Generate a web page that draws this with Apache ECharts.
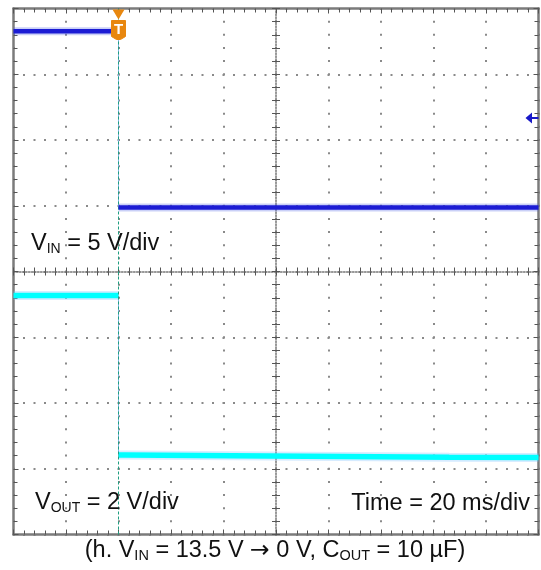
<!DOCTYPE html>
<html><head><meta charset="utf-8">
<script src="https://cdn.jsdelivr.net/npm/echarts@6/dist/echarts.min.js"></script>
<style>html,body{margin:0;padding:0;background:#fff}#c{width:541px;height:570px}</style>
</head><body><div id="c"></div>
<script>
// ---------------- data ----------------
// horizontal: 20 ms/div, 10 divisions, trigger at 0 ms
const timeAxisMs = [-40, 160];          // visible time window
const timeDivMs = 20;                   // 20 ms/div
// vertical: 8 divisions, values expressed in volts per channel
const vinTimeMs = [-40, 0, 0, 160];
const vinVolts  = [13.4, 13.4, 0.0, 0.0];
const voutTimeMs = [-40, 0, 0, 2.5, 126, 160];
const voutVolts  = [5.27, 5.27, 0.42, 0.42, 0.35, 0.34];
const triggerTimeMs = 0;
const triggerLevelV = 6.8;
const vinVoltsPerDiv = 5;
const voutVoltsPerDiv = 2;
const vinGroundDiv = 0.975;   // channel 1 ground position (div from centre)
const voutGroundDiv = -3;     // channel 2 ground position (div from centre)

// ---------------- helpers ----------------
function toDiv(v, perDiv, ground) { return v / perDiv + ground; }
function splitTrace(ts, vs, perDiv, ground) {
  const pts = ts.map((t, i) => [t, toDiv(vs[i], perDiv, ground)]);
  let e = 0;
  for (let i = 1; i < pts.length; i++) if (pts[i][0] === pts[i - 1][0]) { e = i; break; }
  return { before: pts.slice(0, e), edge: [pts[e - 1], pts[e]], after: pts.slice(e) };
}
const vin = splitTrace(vinTimeMs, vinVolts, vinVoltsPerDiv, vinGroundDiv);
const vout = splitTrace(voutTimeMs, voutVolts, voutVoltsPerDiv, voutGroundDiv);

const FONT = '"Liberation Sans", Arial, Helvetica, sans-serif';
const gridGray = '#7b7b7b', tickGray = '#555555', dotGray = '#8a8a8a';

function xAx(pos, opts) {
  return Object.assign({
    type: 'value', min: timeAxisMs[0], max: timeAxisMs[1], interval: timeDivMs, position: pos,
    axisLabel: { show: false }, splitLine: { show: false },
    axisLine: { show: true, onZero: false, lineStyle: { color: gridGray, width: 2.5 } },
    axisTick: { show: true, inside: true, length: 5, lineStyle: { color: tickGray, width: 1 } },
    minorTick: { show: true, splitNumber: 5, length: 4, lineStyle: { color: tickGray, width: 1 } }
  }, opts);
}
function yAx(pos, opts) {
  return Object.assign({
    type: 'value', min: -4, max: 4, interval: 1, position: pos,
    axisLabel: { show: false }, splitLine: { show: false },
    axisLine: { show: true, onZero: false, lineStyle: { color: gridGray, width: 2.5 } },
    axisTick: { show: true, inside: true, length: 5, lineStyle: { color: tickGray, width: 1 } },
    minorTick: { show: true, splitNumber: 5, length: 4, lineStyle: { color: tickGray, width: 1 } }
  }, opts);
}
const centreLine = { show: true, onZero: false, lineStyle: { color: '#777', width: 1.5, type: [1.5, 1.5] } };
const noLine = { show: false, onZero: false };
const cTick = { show: true, inside: false, length: 4, lineStyle: { color: tickGray, width: 1 } };
const cMinor = { show: true, splitNumber: 5, length: 4, lineStyle: { color: tickGray, width: 1 } };

function trace(data, color, width, glow, glowW, z) {
  return [
    { type: 'line', data: data, xAxisIndex: 0, yAxisIndex: 0, symbol: 'none', silent: true, z: z,
      lineStyle: { color: glow, width: glowW } },
    { type: 'line', data: data, xAxisIndex: 0, yAxisIndex: 0, symbol: 'none', silent: true, z: z + 1,
      lineStyle: { color: color, width: width } }
  ];
}

const VIN_C = '#1c1cd4', VOUT_C = '#00ffff';
const series = []
  .concat(trace(vin.before, VIN_C, 4.5, 'rgba(80,100,230,0.3)', 8, 5))
  .concat(trace(vin.after, VIN_C, 4.5, 'rgba(80,100,230,0.3)', 8, 5))
  .concat(trace(vout.before, VOUT_C, 5.5, 'rgba(120,190,255,0.3)', 9, 3))
  .concat(trace(vout.after, VOUT_C, 5.5, 'rgba(120,190,255,0.3)', 9, 3));
// falling edges (thin, light)
series.push({ type: 'line', data: vin.edge, symbol: 'none', silent: true, z: 4,
  lineStyle: { color: '#8fb4f2', width: 1 } });
series.push({ type: 'line', data: vout.edge, symbol: 'none', silent: true, z: 2,
  lineStyle: { color: '#8fb4f2', width: 1 },
  markLine: { symbol: 'none', silent: true, label: { show: false }, animation: false,
    lineStyle: { color: '#1f9e80', type: [3, 2], width: 1 },
    data: [{ xAxis: triggerTimeMs }] } });
// trigger-level arrow (right edge)
series.push({ type: 'scatter', data: [], silent: true, z: 10,
  markPoint: { animation: false, silent: true, label: { show: false },
    data: [
      { coord: [timeAxisMs[1], toDiv(triggerLevelV, vinVoltsPerDiv, vinGroundDiv)],
        symbol: 'path://M0,5.5 L6.5,0 L6.5,4.5 L13,4.5 L13,6.5 L6.5,6.5 L6.5,11 Z',
        symbolSize: [13, 11], symbolOffset: [-6.5, 0], symbolKeepAspect: false,
        itemStyle: { color: '#1818c8' } }
    ] } });

function rich(main, sub) {
  return {
    m: { fontSize: main, fontFamily: FONT, fill: '#111', lineHeight: 30 },
    a: { fontSize: main, fontFamily: '"DejaVu Sans", sans-serif', fill: '#111', lineHeight: 30 },
    s: { fontSize: sub, fontFamily: FONT, fill: '#111', lineHeight: 30,
         padding: [2 * (0.3465 * (main - sub) + 2), 0, 0, 0] }
  };
}

const option = {
  animation: false,
  backgroundColor: '#ffffff',
  grid: { left: 13.5, right: 2.5, top: 8.5, bottom: 35.5, containLabel: false },
  xAxis: [
    xAx('bottom', { splitLine: { show: true, lineStyle: { color: dotGray, width: 2, type: [2, 11.15], dashOffset: 1 } } }),
    xAx('top', {}),
    xAx('bottom', { offset: -263, axisLine: centreLine, axisTick: cTick, minorTick: cMinor }),
    xAx('top', { offset: -263, axisLine: noLine, axisTick: cTick, minorTick: cMinor })
  ],
  yAxis: [
    yAx('left', { splitLine: { show: true, lineStyle: { color: dotGray, width: 2, type: [2, 8.5], dashOffset: 1 } } }),
    yAx('right', {}),
    yAx('left', { offset: -262.5, axisLine: centreLine, axisTick: cTick, minorTick: cMinor }),
    yAx('right', { offset: -262.5, axisLine: noLine, axisTick: cTick, minorTick: cMinor })
  ],
  series: series,
  graphic: { elements: [
    { type: 'text', x: 31, y: 243.9, z: 20, silent: true,
      style: { text: '{m|V}{s|IN}{m| = 5 V/div}', rich: rich(23.5, 14), align: 'left', verticalAlign: 'middle' } },
    { type: 'text', x: 35, y: 502.6, z: 20, silent: true,
      style: { text: '{m|V}{s|OUT}{m| = 2 V/div}', rich: rich(23.5, 14), align: 'left', verticalAlign: 'middle' } },
    { type: 'text', x: 530, y: 503.6, z: 20, silent: true,
      style: { text: '{m|Time = 20 ms/div}', rich: rich(23.5, 14), align: 'right', verticalAlign: 'middle' } },
    { type: 'text', x: 275, y: 551, z: 20, silent: true,
      style: { text: '{m|(h. V}{s|IN}{m| = 13.5 V }{a|\u2192}{m| 0 V, C}{s|OUT}{m| = 10 \u00b5F)}', rich: rich(23.5, 14.5),
               align: 'center', verticalAlign: 'middle' } }
  ] }
};
const chart = echarts.init(document.getElementById('c'), null, { renderer: 'canvas' });
chart.setOption(option);

// trigger position marker "T" at the top edge, placed through the axis scale
const tp = chart.convertToPixel({ xAxisIndex: 0, yAxisIndex: 0 }, [triggerTimeMs, 4]);
const ORANGE = '#e8870f';
chart.setOption({ graphic: { elements: [
  { type: 'polygon', id: 'trigTri', z: 30, silent: true,
    shape: { points: [[tp[0] - 6, tp[1] + 1], [tp[0] + 6, tp[1] + 1], [tp[0], tp[1] + 11]] },
    style: { fill: ORANGE } },
  { type: 'polygon', id: 'trigBox', z: 30, silent: true,
    shape: { points: [[tp[0] - 7, tp[1] + 12], [tp[0] + 7, tp[1] + 12], [tp[0] + 7, tp[1] + 28],
                      [tp[0] + 2, tp[1] + 31], [tp[0] - 2, tp[1] + 31], [tp[0] - 7, tp[1] + 28]], smooth: 0 },
    style: { fill: ORANGE, stroke: ORANGE, lineWidth: 1, lineJoin: 'round' } },
  { type: 'text', id: 'trigT', z: 31, silent: true, x: tp[0], y: tp[1] + 21.5,
    style: { text: 'T', fill: '#ffffff', font: 'bold 15px ' + FONT, align: 'center', verticalAlign: 'middle' } }
] } });
</script>
</body></html>
